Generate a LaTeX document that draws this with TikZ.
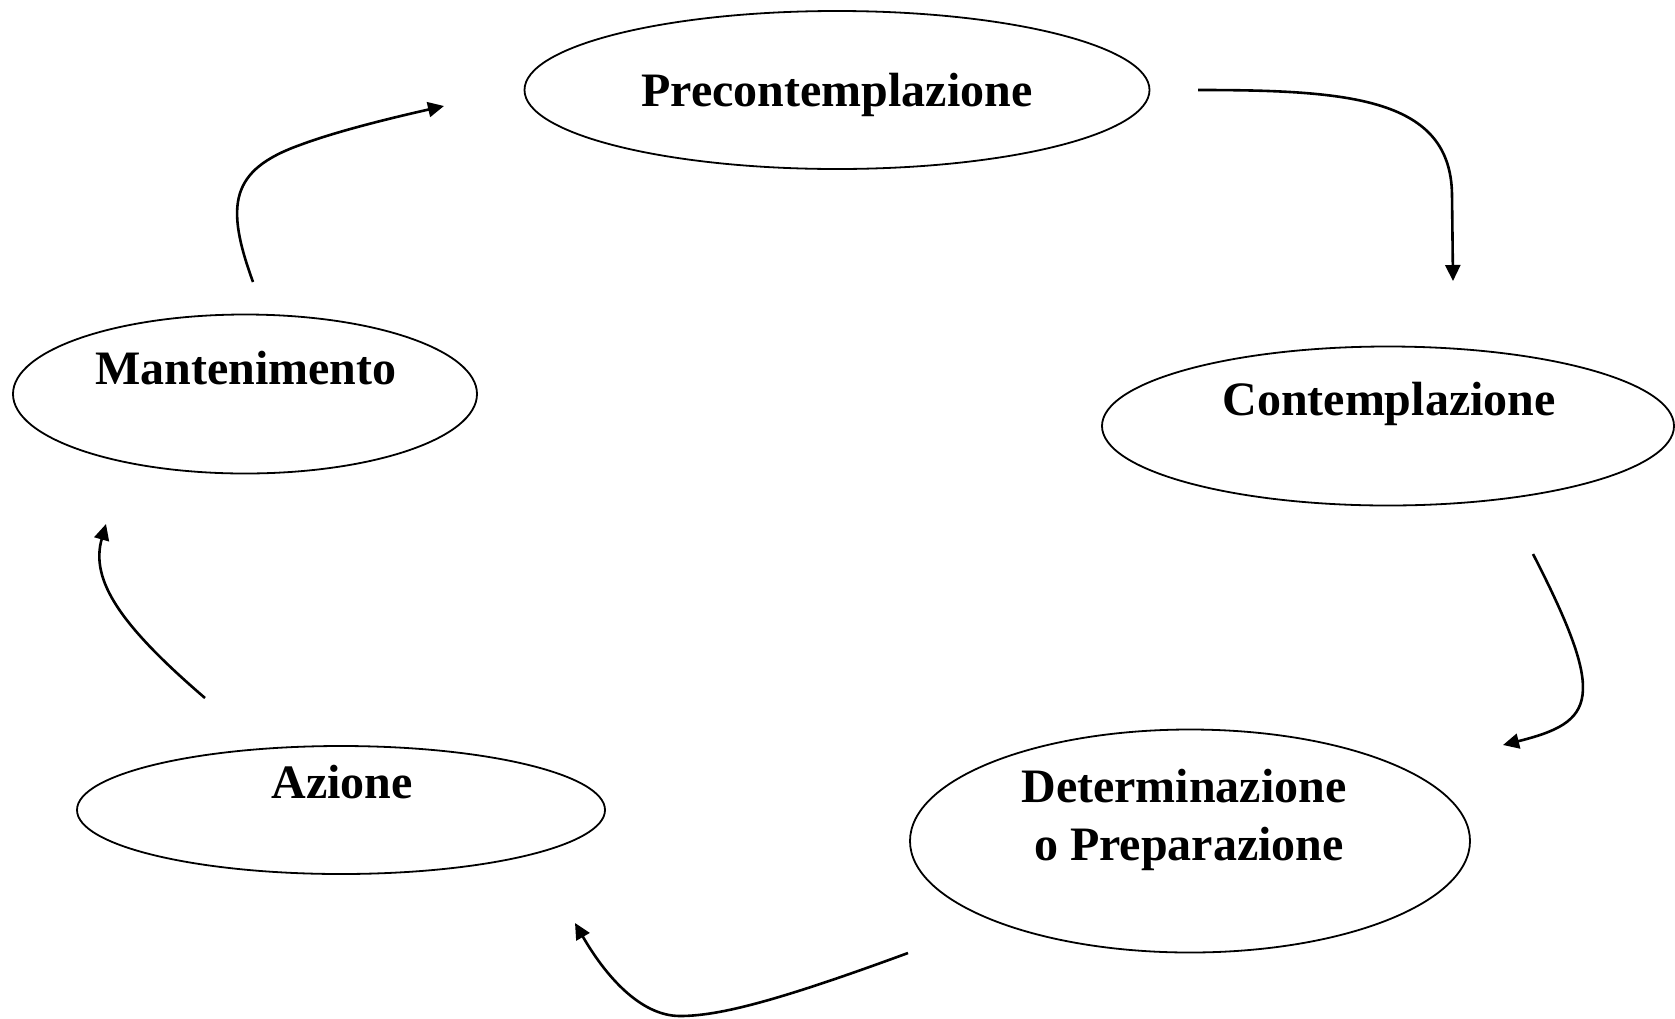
\documentclass[tikz,border=0pt]{standalone}
\usepackage{fontspec}
\setmainfont{Liberation Serif}
\usetikzlibrary{shapes.geometric,arrows.meta}
\begin{document}
\begin{tikzpicture}[x=1pt,y=-1pt,
  stage/.style={draw=black, line width=1.8pt, ellipse, inner sep=0pt, outer sep=0pt},
  lbl/.style={font=\fontsize{48}{57}\selectfont\bfseries, anchor=base, inner sep=0pt},
  flow/.style={draw=black, line width=2.6pt, -{Triangle[length=16pt,width=15pt]}}]
\useasboundingbox (0,0) rectangle (1675,1018);
\fill[white] (0,0) rectangle (1675,1018);
% stages
\node[stage, minimum width=625pt, minimum height=158pt] (pre) at (837,90) {};
\node[stage, minimum width=572pt, minimum height=159pt] (con) at (1388,426) {};
\node[stage, minimum width=464pt, minimum height=159pt] (man) at (245,394) {};
\node[stage, minimum width=528pt, minimum height=128pt] (azi) at (341,810) {};
\node[stage, minimum width=560pt, minimum height=223pt] (det) at (1190,841) {};
% labels
\node[lbl] (pret) at (837,106) {Precontemplazione};
\node[lbl] (cont) at (1389,415) {Contemplazione};
\node[lbl] (mant) at (246,384) {Mantenimento};
\node[lbl] (azit) at (342,798) {Azione};
\node[lbl] (dett) at (1184,802) {Determinazione};
\node[lbl] (dett2) at (1189,860) {o Preparazione};
% connector ends
\coordinate (a1s) at (1198,90);   \coordinate (a1e) at (1453,281);
\coordinate (a2s) at (1533,554);  \coordinate (a2e) at (1503,745);
\coordinate (a3s) at (908,953);   \coordinate (a3m) at (680,1016); \coordinate (a3e) at (575,923);
\coordinate (a4s) at (205,698);   \coordinate (a4e) at (106,524);
\coordinate (a5s) at (253,282);   \coordinate (a5m) at (300,145); \coordinate (a5e) at (444,106);
% connectors
\draw[flow] (a1s) .. controls (1350,90) and (1451,98) .. (1452,195) -- (a1e);
\draw[flow] (a2s) .. controls (1608,700) and (1595,722) .. (a2e);
\draw[flow] (a3s) .. controls (780,1000) and (720,1016) .. (a3m) .. controls (640,1016) and (605,975) .. (a3e);
\draw[flow] (a4s) .. controls (120,625) and (90,580) .. (a4e);
\draw[flow] (a5s) .. controls (225,205) and (230,170) .. (a5m) .. controls (340,130) and (400,116) .. (a5e);
\end{tikzpicture}
\end{document}
